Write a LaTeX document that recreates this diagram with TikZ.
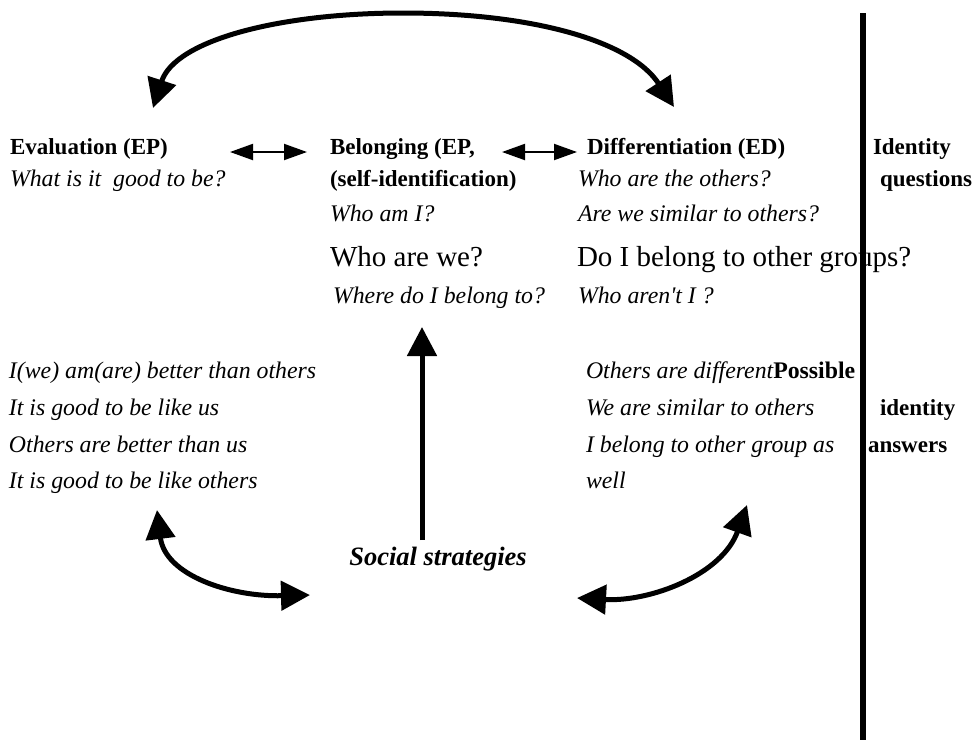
\documentclass[tikz,border=0pt]{standalone}
\usepackage{fontspec}
\setmainfont{Liberation Serif}
\usetikzlibrary{arrows.meta}
\tikzset{
  bigtip/.tip={Triangle[length=29pt,width=29pt]},
  smalltip/.tip={Triangle[length=23pt,width=16pt]}
}
\begin{document}
\begin{tikzpicture}[x=1pt,y=-1pt,
  lbl/.style={anchor=base west,inner sep=0pt,outer sep=0pt},
  bt/.style={lbl,font=\fontsize{23}{27}\selectfont\bfseries},
  it/.style={lbl,font=\fontsize{23.8}{28}\selectfont\itshape},
  big/.style={lbl,font=\fontsize{29}{34}\selectfont},
  bigarrow/.style={line width=5pt},
  smallarrow/.style={line width=2pt,smalltip-smalltip}
]
\useasboundingbox (0,0) rectangle (975,740);
% row 1
\node[bt] (eval) at (10,154) {Evaluation (EP)};
\node[bt] (belong) at (330,154) {Belonging (EP,};
\node[bt] (diff) at (587,154) {Differentiation (ED)};
\node[bt] (idq1) at (873,154) {Identity};
% row 2
\node[it] (q1) at (10,186) {What is it\ \ good to be?};
\node[bt] (selfid) at (330,186) {(self-identification)};
\node[it] (q2) at (578,186) {Who are the others?};
\node[bt] (idq2) at (880,186) {questions};
% row 3
\node[it] (q3) at (330,221) {Who am I?};
\node[it] (q4) at (578,221) {Are we similar to others?};
% row 4
\node[big] (q5) at (330,266) {Who are we?};
\node[big] (q6) at (577,266) {Do I belong to other groups?};
% row 5
\node[it] (q7) at (333,303) {Where do I belong to?};
\node[it] (q8) at (578,303) {Who aren\textquotesingle t I ?};
% lower block
\node[it] (a1) at (9,378) {I(we) am(are) better than others};
\node[it] (a2) at (9,415) {It is good to be like us};
\node[it] (a3) at (9,452) {Others are better than us};
\node[it] (a4) at (9,488) {It is good to be like others};
\node[it] (b1) at (586,378) {Others are different\textbf{\upshape Possible}};
\node[it] (b2) at (586,415) {We are similar to others};
\node[it] (b3) at (586,452) {I belong to other group as};
\node[it] (b4) at (586,488) {well};
\node[bt] (ida2) at (880,415) {identity};
\node[bt] (ida3) at (868,452) {answers};
\node[anchor=base,inner sep=0pt,font=\fontsize{26.5}{31}\selectfont\bfseries\itshape] (soc) at (438,565) {Social strategies};
% small double arrows
\coordinate (s1a) at (230,152); \coordinate (s1b) at (307,152);
\coordinate (s2a) at (502,152); \coordinate (s2b) at (577,152);
\draw[smallarrow] (s1a) -- (s1b);
\draw[smallarrow] (s2a) -- (s2b);
% top arc
\coordinate (tl) at (153,108); \coordinate (top) at (403,13); \coordinate (tr) at (674,107);
\draw[bigarrow,bigtip-bigtip] (tl) .. controls (175,40) and (280,13) .. (top)
      .. controls (530,13) and (630,40) .. (tr);
% centre arrow
\coordinate (cb) at (422,540); \coordinate (ct) at (422,327);
\draw[bigarrow,-bigtip] (cb) -- (ct);
% bottom left arc
\coordinate (bla) at (157,510); \coordinate (blb) at (310,595);
\draw[bigarrow,bigtip-bigtip] (bla) .. controls (165,575) and (230,597) .. (blb);
% bottom right arc
\coordinate (bra) at (577,598); \coordinate (brb) at (747,505);
\draw[bigarrow,bigtip-bigtip] (bra) .. controls (650,602) and (722,575) .. (brb);
% divider
\coordinate (vt) at (863,13); \coordinate (vb) at (863,740);
\draw[line width=6pt] (vt) -- (vb);
\end{tikzpicture}
\end{document}
